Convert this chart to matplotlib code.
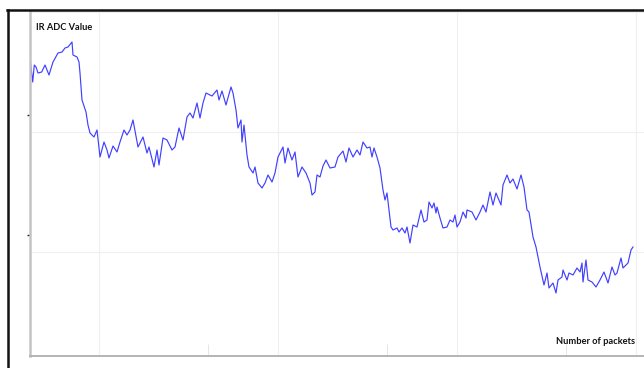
import matplotlib
matplotlib.use("Agg")
import matplotlib.pyplot as plt
from matplotlib.lines import Line2D

# Packet index (x) and IR ADC value (arbitrary units)
packets = [0, 2.7, 4.3, 6, 8, 11.7, 15, 19, 23, 28,
           32, 35, 38, 42, 43, 47, 49, 50, 52, 56,
           58, 60, 64, 67, 70, 74, 77, 79, 83, 87,
           90, 94, 97, 100, 103, 108, 113, 117, 119, 124,
           127, 129, 133, 137, 142, 145, 149, 153, 157, 160,
           163, 167, 170, 173, 176, 182, 187, 189, 192, 196,
           201, 203, 206, 208, 211, 212, 214, 217, 219, 223,
           225, 228, 232, 235, 238, 242, 245, 248, 253, 255,
           258, 262, 265, 268, 272, 276, 280, 282, 285, 287,
           290, 293, 296, 300, 305, 308, 313, 316, 319, 323,
           327, 330, 333, 337, 340, 342, 344, 347, 350, 353,
           355, 357, 359, 361, 363, 367, 369, 372, 375, 377,
           380, 383, 387, 391, 394, 397, 399, 402, 404, 406,
           407, 410, 413, 417, 420, 423, 425, 427, 430, 433,
           436, 437, 442, 446, 450, 453, 456, 460, 463, 466,
           471, 473, 477, 480, 483, 487, 491, 494, 497, 499,
           503, 506, 510, 514, 517, 519, 523, 526, 528, 532,
           533, 537, 539, 543, 547, 550, 552, 553, 556, 558,
           562, 566, 570, 574, 578, 582, 585, 587, 591, 593,
           596, 598, 601, 603]
ir_adc = [298, 274, 291, 289, 283, 284, 291, 281, 294, 303,
          304, 308, 309, 314, 301, 299, 294, 283, 256, 244,
          231, 223, 219, 226, 199, 214, 206, 198, 210, 204,
          214, 226, 221, 226, 236, 209, 219, 203, 209, 189,
          206, 191, 218, 216, 206, 209, 228, 216, 239, 243,
          238, 253, 238, 253, 263, 260, 266, 256, 265, 251,
          269, 263, 246, 228, 236, 214, 231, 201, 189, 183,
          189, 173, 168, 173, 181, 174, 183, 199, 209, 193,
          208, 196, 204, 179, 189, 183, 173, 161, 164, 181,
          179, 190, 196, 188, 189, 199, 205, 194, 208, 199,
          206, 201, 214, 208, 209, 199, 208, 199, 188, 166,
          156, 163, 146, 129, 126, 128, 124, 128, 123, 129,
          113, 131, 129, 146, 134, 136, 154, 148, 153, 143,
          149, 138, 128, 129, 136, 134, 141, 129, 134, 144,
          138, 146, 144, 136, 144, 151, 144, 164, 151, 163,
          151, 171, 181, 173, 177, 167, 181, 169, 146, 144,
          119, 109, 89, 71, 83, 68, 73, 63, 76, 79,
          86, 76, 83, 81, 88, 84, 93, 74, 96, 76,
          74, 69, 76, 84, 73, 89, 81, 83, 98, 88,
          91, 93, 106, 109]

x_ticks = [0, 178, 357, 536]
x_grid = [69, 248, 427, 606]
y_ticks = [121, 241]
y_grid = [104, 224, 344]

W, H = 644, 368
fig = plt.figure(figsize=(W / 100, H / 100), dpi=100)
fig.patch.set_facecolor("white")
ax = fig.add_axes([30 / W, 12 / H, (W - 30) / W, (356 - 12) / H])
ax.set_facecolor("white")

ax.plot(packets, ir_adc, color="#4040ff", lw=0.85, solid_joinstyle="round")

ax.set_xlim(0, 614)
ax.set_ylim(0, 344)

ax.set_xticks(x_ticks)
ax.set_xticklabels([])
ax.set_xticks(x_grid, minor=True)
ax.set_yticks(y_ticks)
ax.set_yticklabels([])
ax.set_yticks(y_grid, minor=True)
ax.grid(which="minor", color="#efefef", lw=0.8)
ax.grid(which="major", visible=False)
ax.tick_params(axis="x", which="major", direction="in", length=9, width=0.7, color="#e6e6e6")
ax.tick_params(axis="y", which="major", direction="out", length=2.5, width=1, color="#222222")
ax.tick_params(which="minor", length=0)

for s in ("top", "right"):
    ax.spines[s].set_visible(False)
ax.spines["left"].set_color("#c4c4c4")
ax.spines["left"].set_linewidth(1.8)
ax.spines["bottom"].set_color("#b4b4b4")
ax.spines["bottom"].set_linewidth(1.4)

fig.text(36 / W, 1 - 28 / H, "IR ADC Value", fontsize=6.7, fontweight="bold",
         family=["Lato", "DejaVu Sans"], va="center", ha="left", color="#111111")
fig.text(635 / W, 1 - 342 / H, "Number of packets", fontsize=6.7, fontweight="bold",
         family=["Lato", "DejaVu Sans"], va="center", ha="right", color="#111111")

# outer frame (top and left edges visible)
fig.add_artist(Line2D([7 / W, 1], [1 - 9.5 / H, 1 - 9.5 / H], transform=fig.transFigure,
                      color="#111111", lw=1.8))
fig.add_artist(Line2D([8 / W, 8 / W], [0, 1 - 9.5 / H], transform=fig.transFigure,
                      color="#111111", lw=1.8))

fig.savefig("out.png", dpi=100, facecolor="white")
